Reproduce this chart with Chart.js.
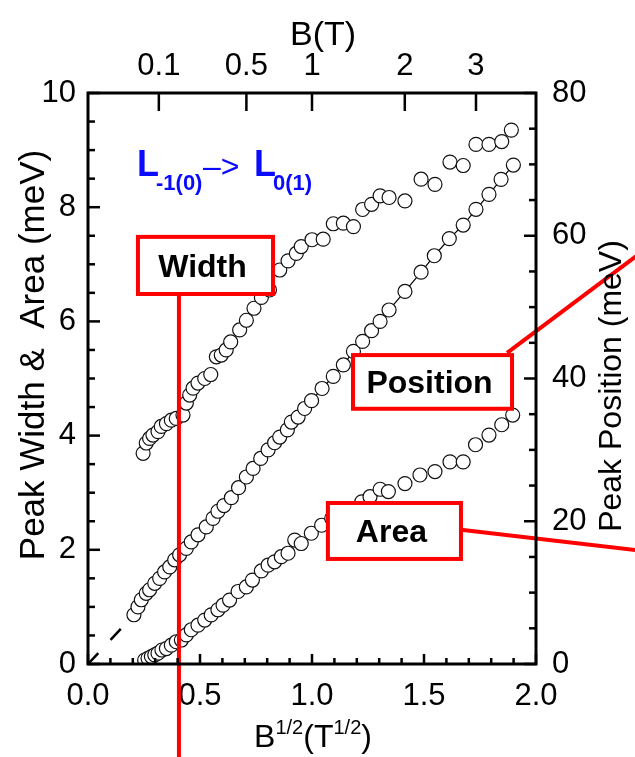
<!DOCTYPE html>
<html>
<head>
<meta charset="utf-8">
<script src="https://cdn.jsdelivr.net/npm/chart.js@4.4.1/dist/chart.umd.min.js"></script>
<style>
  html, body { margin: 0; padding: 0; background: #fff; }
  #wrap { width: 635px; height: 757px; }
</style>
</head>
<body>
<div id="wrap"><canvas id="peakChart" width="635" height="757"></canvas></div>
<script>
// B^1/2 (T^1/2) and values
const widthX = [0.246, 0.26, 0.275, 0.29, 0.3125, 0.327, 0.35, 0.372, 0.394, 0.424, 0.439, 0.454, 0.469, 0.491, 0.521, 0.548, 0.573, 0.595, 0.617, 0.637, 0.677, 0.707, 0.741, 0.774, 0.81, 0.856, 0.893, 0.93, 0.952, 1.0, 1.05, 1.095, 1.14, 1.185, 1.226, 1.266, 1.304, 1.344, 1.415, 1.487, 1.549, 1.616, 1.675, 1.732, 1.79, 1.847, 1.89];
const widthY = [3.69, 3.87, 3.95, 4.01, 4.07, 4.16, 4.21, 4.27, 4.30, 4.36, 4.57, 4.71, 4.83, 4.92, 5.00, 5.07, 5.38, 5.41, 5.50, 5.64, 5.85, 6.02, 6.23, 6.42, 6.55, 6.90, 7.06, 7.19, 7.31, 7.43, 7.44, 7.71, 7.72, 7.66, 7.96, 8.05, 8.20, 8.17, 8.11, 8.49, 8.40, 8.79, 8.73, 9.10, 9.10, 9.15, 9.35];

// peak position, meV (right axis)
const positionX = [0.205, 0.223, 0.238, 0.26, 0.275, 0.298, 0.32, 0.342, 0.365, 0.387, 0.409, 0.439, 0.461, 0.491, 0.528, 0.558, 0.58, 0.607, 0.64, 0.672, 0.707, 0.737, 0.771, 0.804, 0.833, 0.856, 0.89, 0.908, 0.938, 0.967, 0.998, 1.045, 1.095, 1.14, 1.185, 1.226, 1.266, 1.304, 1.344, 1.415, 1.487, 1.546, 1.613, 1.675, 1.732, 1.79, 1.844, 1.899];
const positionY = [6.9, 8.0, 9.0, 9.9, 10.4, 11.3, 12.0, 12.9, 13.6, 14.6, 15.3, 16.2, 17.1, 18.1, 19.2, 20.4, 21.4, 22.2, 23.3, 24.7, 26.2, 27.4, 28.8, 30.0, 31.0, 31.8, 32.8, 33.9, 34.6, 35.8, 36.9, 38.6, 40.3, 41.9, 43.8, 45.2, 46.7, 48.0, 49.6, 52.2, 54.9, 57.2, 59.6, 61.5, 63.7, 65.8, 67.9, 69.9];

const areaX = [0.253, 0.268, 0.283, 0.298, 0.3125, 0.33, 0.35, 0.372, 0.394, 0.417, 0.439, 0.461, 0.491, 0.521, 0.55, 0.58, 0.603, 0.632, 0.67, 0.707, 0.734, 0.774, 0.804, 0.833, 0.863, 0.893, 0.923, 0.952, 0.997, 1.043, 1.088, 1.133, 1.177, 1.222, 1.259, 1.304, 1.341, 1.415, 1.482, 1.549, 1.616, 1.675, 1.73, 1.79, 1.847, 1.896];
const areaY = [0.07, 0.10, 0.13, 0.16, 0.19, 0.245, 0.27, 0.33, 0.39, 0.42, 0.51, 0.60, 0.68, 0.77, 0.86, 0.95, 1.03, 1.12, 1.27, 1.35, 1.47, 1.63, 1.73, 1.79, 1.88, 1.94, 2.17, 2.11, 2.29, 2.43, 2.55, 2.64, 2.64, 2.84, 2.93, 3.06, 3.02, 3.16, 3.31, 3.37, 3.54, 3.54, 3.84, 4.01, 4.19, 4.36];

// dashed extrapolation of the position to zero field (meV)
const fitX = [0, 0.149];
const fitY = [0, 5.0];

// tick labels
const bottomTicks = ['0.0', '0.5', '1.0', '1.5', '2.0'];
const leftTicks = ['0', '2', '4', '6', '8', '10'];
const rightTicks = ['0', '20', '40', '60', '80'];
const topTickB = [0.1, 0.5, 1, 2, 3];
const topTicks = ['0.1', '0.5', '1', '2', '3'];

const FONT = "'Liberation Sans', Arial, Helvetica, sans-serif";

function pts(xs, ys) {
  return xs.map((x, i) => ({ x: x, y: ys[i] }));
}

// red call-out boxes, in data units of x / left axis
const callouts = [
  { text: 'Width', box: [0.223, 0.826, 6.48, 7.48], line: [[0.406, 6.48], [0.406, -1.8]] },
  { text: 'Position', box: [1.183, 1.893, 4.47, 5.41], line: [[1.871, 5.45], [2.46, 7.18]] },
  { text: 'Area', box: [1.071, 1.665, 1.84, 2.82], line: [[1.665, 2.35], [2.46, 1.99]] }
];

const framePlugin = {
  id: 'framePlugin',
  afterDatasetsDraw(chart) {
    const ctx = chart.ctx;
    const a = chart.chartArea;
    const sx = chart.scales.x, sy = chart.scales.y;
    ctx.save();

    // call-outs
    ctx.strokeStyle = '#ff0000';
    ctx.lineWidth = 4;
    callouts.forEach(c => {
      ctx.beginPath();
      ctx.moveTo(sx.getPixelForValue(c.line[0][0]), sy.getPixelForValue(c.line[0][1]));
      ctx.lineTo(sx.getPixelForValue(c.line[1][0]), sy.getPixelForValue(c.line[1][1]));
      ctx.stroke();
    });
    callouts.forEach(c => {
      const x0 = sx.getPixelForValue(c.box[0]);
      const x1 = sx.getPixelForValue(c.box[1]);
      const y0 = sy.getPixelForValue(c.box[3]);
      const y1 = sy.getPixelForValue(c.box[2]);
      ctx.fillStyle = '#fff';
      ctx.fillRect(x0, y0, x1 - x0, y1 - y0);
      ctx.strokeRect(x0, y0, x1 - x0, y1 - y0);
      ctx.fillStyle = '#000';
      ctx.font = 'bold 32px ' + FONT;
      ctx.textAlign = 'center';
      ctx.textBaseline = 'alphabetic';
      ctx.fillText(c.text, (x0 + x1) / 2 - 3, (y0 + y1) / 2 + 11.5);
    });

    // frame
    ctx.strokeStyle = '#000';
    ctx.lineWidth = 3;
    ctx.strokeRect(a.left, a.top, a.right - a.left, a.bottom - a.top);

    // inward tick marks
    ctx.lineWidth = 2.5;
    const tick = (x0, y0, x1, y1) => {
      ctx.beginPath(); ctx.moveTo(x0, y0); ctx.lineTo(x1, y1); ctx.stroke();
    };
    chart.scales.x.ticks.forEach(t => {
      const p = sx.getPixelForValue(t.value);
      tick(p, a.bottom, p, a.bottom - (t.label ? 10 : 6));
    });
    chart.scales.x2.ticks.forEach(t => {
      const p = chart.scales.x2.getPixelForValue(t.value);
      tick(p, a.top, p, a.top + 18);
    });
    chart.scales.y.ticks.forEach(t => {
      const p = sy.getPixelForValue(t.value);
      tick(a.left, p, a.left + (t.label ? 12 : 7), p);
    });
    chart.scales.y2.ticks.forEach(t => {
      const p = chart.scales.y2.getPixelForValue(t.value);
      tick(a.right, p, a.right - (t.label ? 12 : 7), p);
    });

    // axis titles
    ctx.fillStyle = '#000';
    ctx.textBaseline = 'alphabetic';
    ctx.textAlign = 'center';
    ctx.font = '34px ' + FONT;
    ctx.fillText('B(T)', 323, 45);

    ctx.save();
    ctx.translate(44, 355);
    ctx.rotate(-Math.PI / 2);
    ctx.font = '35px ' + FONT;
    ctx.fillText('Peak Width &  Area (meV)', 0, 0);
    ctx.restore();

    ctx.save();
    ctx.translate(621, 386);
    ctx.rotate(-Math.PI / 2);
    ctx.font = '32px ' + FONT;
    ctx.fillText('Peak Position (meV)', 0, 0);
    ctx.restore();

    // B^1/2 (T^1/2)
    const parts = [
      { t: 'B', f: '32px ', dy: 0 },
      { t: '1/2', f: '20px ', dy: -13 },
      { t: '(T', f: '32px ', dy: 0 },
      { t: '1/2', f: '20px ', dy: -13 },
      { t: ')', f: '32px ', dy: 0 }
    ];
    let total = 0;
    parts.forEach(p => { ctx.font = p.f + FONT; p.w = ctx.measureText(p.t).width; total += p.w; });
    let cx = 313 - total / 2;
    ctx.textAlign = 'left';
    parts.forEach(p => {
      ctx.font = p.f + FONT;
      ctx.fillText(p.t, cx, 747 + p.dy);
      cx += p.w;
    });

    // transition label
    ctx.fillStyle = '#0a0aff';
    const lab = [
      { t: 'L', f: 'bold 36px ', x: 137, y: 176 },
      { t: '-1(0)', f: 'bold 22px ', x: 156, y: 190 },
      { t: '\u2013>', f: '32px ', x: 203, y: 177 },
      { t: 'L', f: 'bold 36px ', x: 254, y: 176 },
      { t: '0(1)', f: 'bold 22px ', x: 273, y: 190 }
    ];
    lab.forEach(p => {
      ctx.font = p.f + FONT;
      ctx.fillText(p.t, p.x, p.y);
    });

    ctx.restore();
  }
};

const tickFont = { family: FONT, size: 31 };
const marker = {
  pointRadius: 7,
  pointBorderWidth: 1.2,
  pointBorderColor: '#111',
  pointBackgroundColor: '#fff'
};

new Chart(document.getElementById('peakChart'), {
  type: 'scatter',
  data: {
    datasets: [
      {
        label: 'fit',
        data: pts(fitX, fitY),
        yAxisID: 'y2',
        showLine: true,
        borderColor: '#000',
        borderWidth: 2.5,
        borderDash: [15, 18],
        pointRadius: 0
      },
      Object.assign({
        label: 'Position',
        data: pts(positionX, positionY),
        yAxisID: 'y2',
        showLine: true,
        borderColor: '#000',
        borderWidth: 1.2
      }, marker),
      Object.assign({
        label: 'Width',
        data: pts(widthX, widthY),
        yAxisID: 'y'
      }, marker),
      Object.assign({
        label: 'Area',
        data: pts(areaX, areaY),
        yAxisID: 'y'
      }, marker)
    ]
  },
  options: {
    responsive: false,
    animation: false,
    devicePixelRatio: 1,
    layout: { padding: 0 },
    plugins: { legend: { display: false }, tooltip: { enabled: false } },
    events: [],
    scales: {
      x: {
        type: 'linear', position: 'bottom', min: 0, max: 2,
        grid: { display: false, drawTicks: false }, border: { display: false },
        ticks: {
          stepSize: 0.1, autoSkip: false, maxRotation: 0, padding: 14,
          font: tickFont, color: '#000',
          callback: v => { const s = v.toFixed(1); return bottomTicks.includes(s) ? s : ''; }
        },
        afterFit: s => { s.height = 93; }
      },
      x2: {
        type: 'linear', position: 'top', min: 0, max: 2,
        grid: { display: false, drawTicks: false }, border: { display: false },
        ticks: {
          autoSkip: false, maxRotation: 0, padding: 8,
          font: tickFont, color: '#000',
          callback: (v, i) => topTicks[i]
        },
        afterBuildTicks: s => { s.ticks = topTickB.map(b => ({ value: Math.sqrt(b) })); },
        afterFit: s => { s.height = 93; }
      },
      y: {
        type: 'linear', position: 'left', min: 0, max: 10,
        grid: { display: false, drawTicks: false }, border: { display: false },
        ticks: {
          stepSize: 0.5, autoSkip: false, padding: 12,
          font: tickFont, color: '#000',
          callback: v => leftTicks.includes(String(v)) ? String(v) : ''
        },
        afterFit: s => { s.width = 88; }
      },
      y2: {
        type: 'linear', position: 'right', min: 0, max: 80,
        grid: { display: false, drawTicks: false }, border: { display: false },
        ticks: {
          stepSize: 5, autoSkip: false, padding: 16,
          font: tickFont, color: '#000',
          callback: v => rightTicks.includes(String(v)) ? String(v) : ''
        },
        afterFit: s => { s.width = 99; }
      }
    }
  },
  plugins: [framePlugin]
});
</script>
</body>
</html>
